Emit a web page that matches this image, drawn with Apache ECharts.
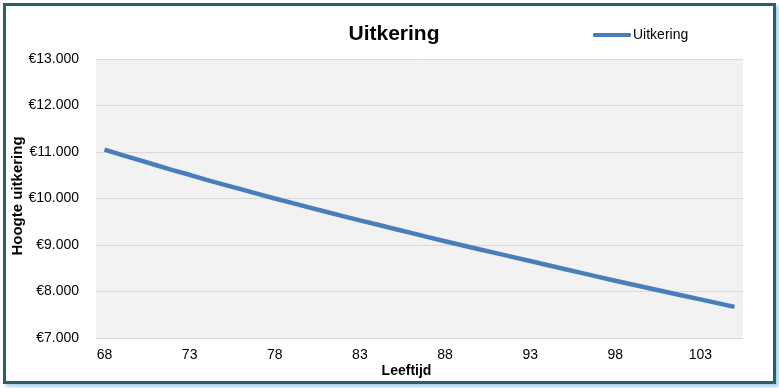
<!DOCTYPE html>
<html>
<head>
<meta charset="utf-8">
<script src="https://cdn.jsdelivr.net/npm/echarts@6/dist/echarts.min.js"></script>
<style>
html,body{margin:0;padding:0;background:#fff;}
#chart{position:absolute;left:0;top:0;width:779px;height:388px;}
#frame{position:absolute;left:3px;top:3px;width:767px;height:375px;border:3px solid #2d5f6b;box-shadow:3px 3px 3px #a9d5ef;pointer-events:none;}
</style>
</head>
<body>
<div id="chart"></div>
<div id="frame"></div>
<script>
var ages = [68,69,70,71,72,73,74,75,76,77,78,79,80,81,82,83,84,85,86,87,88,89,90,91,92,93,94,95,96,97,98,99,100,101,102,103,104,105];
var uitkering = [11050,10940,10830,10720,10610,10510,10400,10300,10200,10100,10000,9905,9810,9715,9620,9530,9440,9350,9260,9170,9080,8995,8910,8825,8740,8655,8570,8485,8400,8315,8230,8150,8070,7990,7910,7830,7750,7670];
var yMin = 7000, yMax = 13000, yStep = 1000;

var chart = echarts.init(document.getElementById('chart'));
var font = 'Arial, "Liberation Sans", sans-serif';
chart.setOption({
  animation: false,
  backgroundColor: '#ffffff',
  title: {
    text: 'Uitkering',
    left: 389, top: 19, textAlign: 'center',
    textStyle: {fontFamily: font, fontSize: 21, fontWeight: 'bold', color: '#000'}
  },
  legend: {
    left: 593, top: 28, padding: 0,
    itemWidth: 38, itemHeight: 4, itemGap: 5,
    icon: 'roundRect',
    textStyle: {fontFamily: font, fontSize: 14, color: '#000', padding: [0, 0, 0, -3]},
    data: ['Uitkering']
  },
  grid: {left: 96, right: 36, top: 59, bottom: 50, show: true, backgroundColor: '#f2f2f2', borderWidth: 0, outerBoundsMode: 'none', containLabel: false},
  xAxis: {
    type: 'category',
    data: ages,
    boundaryGap: true,
    name: 'Leeftijd',
    nameLocation: 'middle',
    nameGap: 26,
    nameMoveOverlap: false,
    nameTextStyle: {fontFamily: font, fontSize: 14, fontWeight: 'bold', color: '#000', padding: [0, 26, 0, 0]},
    axisLine: {show: true, lineStyle: {color: '#d9d9d9'}},
    axisTick: {show: false},
    axisLabel: {interval: 4, margin: 10, fontFamily: font, fontSize: 14, color: '#000'}
  },
  yAxis: {
    type: 'value',
    min: yMin, max: yMax, interval: yStep,
    name: 'Hoogte uitkering',
    nameLocation: 'middle',
    nameGap: 71,
    nameMoveOverlap: false,
    nameTextStyle: {fontFamily: font, fontSize: 15, fontWeight: 'bold', color: '#000', padding: [0, 0, 0, 5]},
    axisLine: {show: false},
    axisTick: {show: false},
    splitLine: {lineStyle: {color: '#d9d9d9', width: 1}},
    axisLabel: {
      margin: 17, fontFamily: font, fontSize: 14, color: '#000',
      formatter: function (v) { return '€' + v.toLocaleString('nl-NL').replace(/,/g, '.'); }
    }
  },
  series: [{
    name: 'Uitkering',
    type: 'line',
    data: uitkering,
    symbol: 'none',
    smooth: false,
    lineStyle: {color: '#4a7ebb', width: 4.5},
    itemStyle: {color: '#4a7ebb'}
  }]
});
</script>
</body>
</html>
